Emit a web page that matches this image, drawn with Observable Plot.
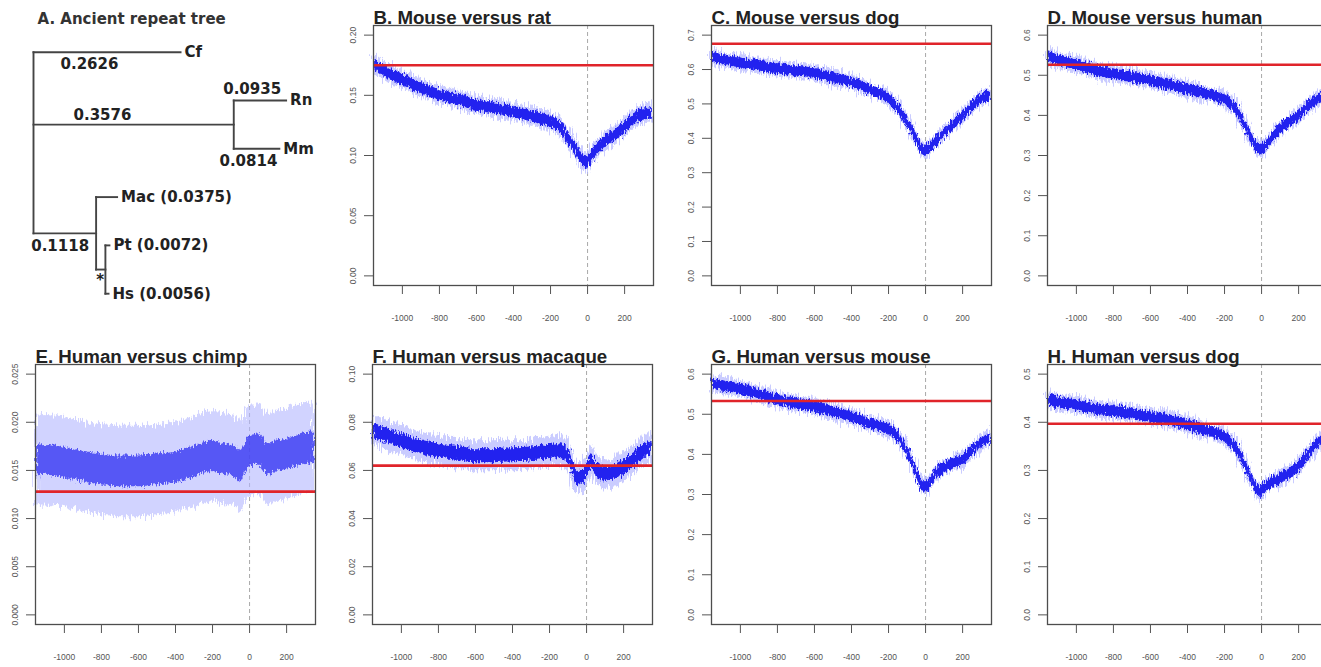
<!DOCTYPE html>
<html><head><meta charset="utf-8">
<script src="https://cdn.jsdelivr.net/npm/d3@7"></script>
<script src="https://cdn.jsdelivr.net/npm/@observablehq/plot@0.6"></script>
<style>
html,body{margin:0;padding:0;background:#fff;overflow:hidden;width:1321px;height:667px;}
#wrap{position:relative;width:1321px;height:667px;overflow:hidden;}
.panel{position:absolute;}
.panel svg{overflow:visible;max-width:none !important;}
</style></head><body>
<svg width="0" height="0" style="position:absolute">
  <defs>
    <filter id="fuzzHalo" x="-5%" y="-30%" width="110%" height="160%">
      <feTurbulence type="fractalNoise" baseFrequency="0.9 0.06" numOctaves="2" seed="4" result="n"/>
      <feDisplacementMap in="SourceGraphic" in2="n" scale="16" xChannelSelector="R" yChannelSelector="G"/>
    </filter>
    <filter id="fuzzCore" x="-5%" y="-30%" width="110%" height="160%">
      <feTurbulence type="fractalNoise" baseFrequency="0.7 0.2" numOctaves="2" seed="9" result="n"/>
      <feDisplacementMap in="SourceGraphic" in2="n" scale="9" xChannelSelector="R" yChannelSelector="G"/>
    </filter>
  </defs>
</svg>
<div id="wrap"></div>
<script>
// ---------- data ----------
const xs = [-1150, -1100, -1000, -900, -800, -700, -600, -500, -400, -300, -200, -150, -100, -75, -50, -25, 0, 25, 50, 100, 150, 200, 250, 300, 350];
const xTicks = [-1000, -800, -600, -400, -200, 0, 200];

const mouseRat    = [0.175, 0.170, 0.163, 0.156, 0.150, 0.146, 0.142, 0.139, 0.136, 0.1325, 0.128, 0.124, 0.113, 0.108, 0.102, 0.096, 0.094, 0.100, 0.105, 0.112, 0.117, 0.123, 0.130, 0.134, 0.135];
const mouseDog    = [0.636, 0.629, 0.619, 0.610, 0.602, 0.596, 0.589, 0.576, 0.562, 0.541, 0.515, 0.488, 0.448, 0.425, 0.400, 0.372, 0.362, 0.372, 0.386, 0.415, 0.439, 0.462, 0.491, 0.515, 0.522];
const mouseHuman  = [0.546, 0.538, 0.526, 0.513, 0.503, 0.495, 0.486, 0.476, 0.465, 0.453, 0.439, 0.422, 0.385, 0.362, 0.340, 0.319, 0.315, 0.323, 0.340, 0.364, 0.383, 0.397, 0.422, 0.439, 0.448];
const humanChimp  = [0.0160, 0.0161, 0.0158, 0.0154, 0.0151, 0.0149, 0.0149, 0.0151, 0.0153, 0.0159, 0.0165, 0.0162, 0.0161, 0.0158, 0.0154, 0.0162, 0.0170, 0.0171, 0.0172, 0.0161, 0.0165, 0.0167, 0.0170, 0.0173, 0.0174];
const humanMacaque= [0.0764, 0.0751, 0.0723, 0.0698, 0.0682, 0.0671, 0.0661, 0.0661, 0.0665, 0.0668, 0.0679, 0.0682, 0.0661, 0.0613, 0.0565, 0.0572, 0.0592, 0.0640, 0.0606, 0.0585, 0.0592, 0.0613, 0.0640, 0.0675, 0.0690];
const humanMouse  = [0.575, 0.571, 0.5625, 0.550, 0.535, 0.526, 0.518, 0.506, 0.493, 0.476, 0.462, 0.445, 0.407, 0.382, 0.357, 0.327, 0.319, 0.327, 0.348, 0.365, 0.378, 0.386, 0.407, 0.428, 0.441];
const humanDog    = [0.445, 0.4415, 0.435, 0.428, 0.423, 0.4175, 0.4105, 0.405, 0.395, 0.383, 0.369, 0.352, 0.321, 0.300, 0.2795, 0.259, 0.255, 0.266, 0.273, 0.283, 0.293, 0.307, 0.331, 0.355, 0.369];

const panelTitles = ["B. Mouse versus rat", "C. Mouse versus dog", "D. Mouse versus human", "E. Human versus chimp", "F. Human versus macaque", "G. Human versus mouse", "H. Human versus dog"];
const panelSeries = [mouseRat, mouseDog, mouseHuman, humanChimp, humanMacaque, humanMouse, humanDog];
const neutralRates = [0.175, 0.675, 0.526, 0.0128, 0.062, 0.533, 0.397];
const yLimits = [0.20, 0.7, 0.6, 0.025, 0.10, 0.6, 0.5];
const yTickSteps = [0.05, 0.1, 0.1, 0.005, 0.02, 0.1, 0.1];
const yTickDigits = [2, 1, 1, 3, 2, 1, 1];
const coreHalfWidth = [0.0046, 0.0145, 0.013, 0.0016, 0.0029, 0.013, 0.011];
const haloHalfWidth = [0.008, 0.023, 0.021, 0.0047, 0.0062, 0.021, 0.018];

// tree
const treeNames   = ["root", "Cf", "rodent", "Rn", "Mm", "primate", "Mac", "hominid", "Pt", "Hs"];
const treeParents = [null, "root", "root", "rodent", "rodent", "root", "primate", "primate", "hominid", "hominid"];
const treeLengths = [0, 0.2626, 0.3576, 0.0935, 0.0814, 0.1118, 0.0375, 0.0166, 0.0072, 0.0056];
const tipLabels   = ["", "Cf", "", "Rn", "Mm", "", "Mac (0.0375)", "", "Pt (0.0072)", "Hs (0.0056)"];
const edgeLabels  = ["", "0.2626", "0.3576", "0.0935", "0.0814", "0.1118", "", "*", "", ""];
const leafOrder   = ["Cf", "Rn", "Mm", "Mac", "Pt", "Hs"];

// ---------- layout (positions of panels' frames) ----------
const frames = [[373, 25], [711, 25], [1047, 25], [35, 364], [372, 364], [711, 364], [1047, 364]];
const FW = 280, FH = 260, ML = 46, MT = 32, MR = 8, MB = 46;
const wrap = document.getElementById("wrap");

function place(node, left, top, w, h) {
  const d = document.createElement("div");
  d.className = "panel";
  d.style.left = left + "px";
  d.style.top = top + "px";
  d.style.width = w + "px";
  d.style.height = h + "px";
  d.appendChild(node);
  wrap.appendChild(d);
}

panelTitles.forEach((title, k) => {
  const rows = xs.map((x, i) => ({x, m: panelSeries[k][i]}));
  const ymax = yLimits[k], pad = ymax * 0.04;
  const step = yTickSteps[k];
  const yTicks = d3.range(0, Math.round(ymax / step) + 1).map(i => +(i * step).toFixed(6));
  const fmt = d3.format("." + yTickDigits[k] + "f");
  const core = coreHalfWidth[k], halo = haloHalfWidth[k];
  const sparse = k === 3;
  const chart = Plot.plot({
    width: ML + FW + MR, height: MT + FH + MB,
    marginLeft: ML, marginTop: MT, marginRight: MR, marginBottom: MB,
    style: {background: "transparent", fontFamily: "Liberation Sans, Arial, sans-serif", overflow: "visible"},
    x: {domain: [-1156, 356]},
    y: {domain: [-pad, ymax + pad]},
    marks: [
      Plot.ruleX([0], {stroke: "#a8a8a8", strokeDasharray: "4,3", strokeWidth: 1}),
      Plot.areaY(rows, {x: "x", y1: d => d.m - halo, y2: d => d.m + halo, fill: "#b3b6ff", fillOpacity: sparse ? 0.6 : 0.7, curve: "monotone-x"}),
      Plot.areaY(rows, {x: "x", y1: d => d.m - core, y2: d => d.m + core, fill: sparse ? "#3a3af2" : "#2222ef", fillOpacity: sparse ? 0.8 : 1, curve: "monotone-x"}),
      Plot.ruleY([neutralRates[k]], {stroke: "#e0242a", strokeWidth: 2.6}),
      Plot.frame({stroke: "#4d4d4d", strokeWidth: 1.3}),
      Plot.axisX({ticks: xTicks, tickSize: 9, tickPadding: 20, tickFormat: d => String(d), label: null, fontSize: 8.5, color: "#555"}),
      Plot.axisY({ticks: yTicks, tickSize: 9, tickPadding: 9, tickRotate: -90, tickFormat: fmt, label: null, fontSize: 8.5, color: "#555"}),
      Plot.text([title], {text: d => d, frameAnchor: "top-left", textAnchor: "start", lineAnchor: "bottom", dy: -2, fontSize: 18.7, fontWeight: "bold", fill: "#222"})
    ]
  });
  const areas = chart.querySelectorAll('g[aria-label="area"]');
  if (areas[0]) areas[0].setAttribute("filter", "url(#fuzzHalo)");
  if (areas[1]) areas[1].setAttribute("filter", "url(#fuzzCore)");
  place(chart, frames[k][0] - ML, frames[k][1] - MT, ML + FW + MR, MT + FH + MB);
});

// ---------- tree ----------
const nodes = treeNames.map((name, i) => ({name, parent: treeParents[i], len: treeLengths[i], tip: tipLabels[i], edge: edgeLabels[i]}));
const byName = new Map(nodes.map(n => [n.name, n]));
nodes.forEach(n => { n.children = nodes.filter(c => c.parent === n.name); });
function setX(n, x0) { n.x = x0 + n.len; n.children.forEach(c => setX(c, n.x)); }
setX(byName.get("root"), 0);
function setY(n) {
  if (!n.children.length) { n.y = leafOrder.indexOf(n.name); return n.y; }
  const ys = n.children.map(setY);
  n.y = d3.mean(ys);
  n.ymin = d3.min(ys); n.ymax = d3.max(ys);
  return n.y;
}
setY(byName.get("root"));
const horiz = nodes.filter(n => n.parent).map(n => ({x1: byName.get(n.parent).x, x2: n.x, y1: n.y, y2: n.y}));
const vert = nodes.filter(n => n.children.length).map(n => ({x1: n.x, x2: n.x, y1: n.ymin, y2: n.ymax}));
const segs = horiz.concat(vert);
const tips = nodes.filter(n => n.tip);
const edgePlacement = {
  Cf: {at: "start", dx: 27, dy: 12, anchor: "start"},
  rodent: {at: "start", dx: 40, dy: -9, anchor: "start"},
  Rn: {at: "end", dx: -5, dy: -11, anchor: "end"},
  Mm: {at: "end", dx: -2, dy: 12, anchor: "end"},
  primate: {at: "end", dx: -7, dy: 13, anchor: "end"},
  hominid: {at: "start", dx: 4, dy: 11, anchor: "middle"}
};
const edges = nodes.filter(n => n.edge).map(n => {
  const p = edgePlacement[n.name];
  return {text: n.edge, x: p.at === "start" ? byName.get(n.parent).x : n.x, y: n.y, dx: p.dx, dy: p.dy, anchor: p.anchor};
});
const TW = 330, TH = 310, PXU = 560, X0 = 33, Y0 = 51.7, YS = 48.3;
const treeFont = "DejaVu Sans, sans-serif";
const tree = Plot.plot({
  width: TW, height: TH, margin: 0,
  style: {background: "transparent", overflow: "visible"},
  x: {domain: [-X0 / PXU, (TW - X0) / PXU], range: [0, TW], axis: null},
  y: {domain: [-Y0 / YS, (TH - Y0) / YS], range: [0, TH], axis: null},
  marks: [
    Plot.link(segs, {x1: "x1", y1: "y1", x2: "x2", y2: "y2", stroke: "#444", strokeWidth: 1.9, strokeLinecap: "square"}),
    Plot.text(tips, {x: "x", y: "y", text: "tip", dx: 4, textAnchor: "start", lineAnchor: "middle", fontSize: 15, fontWeight: "bold", fontFamily: treeFont, fill: "#222"}),
    ...edges.map(e => Plot.text([e], {x: "x", y: "y", text: "text", dx: e.dx, dy: e.dy, textAnchor: e.anchor, lineAnchor: "middle", fontSize: 15, fontWeight: "bold", fontFamily: treeFont, fill: "#222"})),
    Plot.text(["A. Ancient repeat tree"], {text: d => d, frameAnchor: "top-left", dx: 37, dy: 23, textAnchor: "start", lineAnchor: "bottom", fontSize: 15, fontWeight: "bold", fontFamily: treeFont, fill: "#333"})
  ]
});
place(tree, 0, 0, TW, TH);
</script></body></html>
